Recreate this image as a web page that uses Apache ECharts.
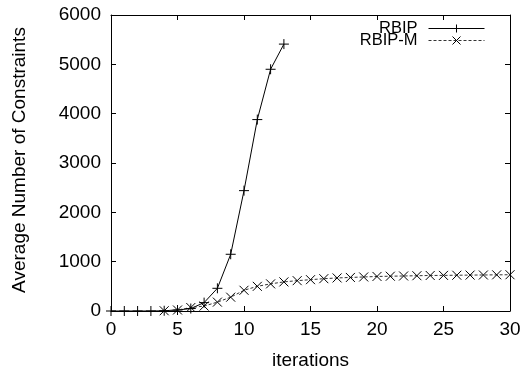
<!DOCTYPE html>
<html>
<head>
<meta charset="utf-8">
<script src="https://cdn.jsdelivr.net/npm/echarts@6/dist/echarts.min.js"></script>
<style>
html,body{margin:0;padding:0;background:#fff;}
#chart{width:524px;height:370px;}
</style>
</head>
<body>
<div id="chart"></div>
<script>
const rbipX = [0,1,2,3,4,5,6,7,8,9,10,11,12,13];
const rbipY = [0,0,0,0,5,20,50,170,460,1150,2440,3880,4900,5410];
const rbipMX = [4,5,6,7,8,9,10,11,12,13,14,15,16,17,18,19,20,21,22,23,24,25,26,27,28,29,30];
const rbipMY = [5,20,70,100,180,280,420,500,550,590,615,635,655,670,680,690,700,705,710,715,720,722,725,728,730,733,735];
const xTicks = [0,5,10,15,20,25,30];
const yTicks = [0,1000,2000,3000,4000,5000,6000];
const seriesNames = ['RBIP', 'RBIP-M'];

const FONT = 'Liberation Sans, Arial, sans-serif';
const TICK_FS = 19;
const plusPath = 'path://M0,5L10,5M5,0L5,10';
const crossPath = 'path://M0,0L10,10M10,0L0,10';

const chart = echarts.init(document.getElementById('chart'), null, {renderer: 'canvas'});

const axisCommon = {
  axisLine: {show: true, onZero: false, lineStyle: {color: '#000', width: 1}},
  axisTick: {show: true, inside: true, length: 5, lineStyle: {color: '#000', width: 1}},
  splitLine: {show: false}
};

function legendFor(name, top) {
  return {
    orient: 'vertical',
    right: 39,
    top: top,
    padding: 0,
    align: 'right',
    itemWidth: 56,
    itemHeight: 10,
    itemGap: 0,
    lineStyle: {width: 1},
    itemStyle: {borderWidth: 1},
    textStyle: {fontFamily: FONT, fontSize: 16.5, color: '#000', padding: [0, 6, 0, 0]},
    data: [name]
  };
}

chart.setOption({
  animation: false,
  backgroundColor: '#fff',
  grid: {left: 111, right: 14, top: 15, bottom: 59, containLabel: false, outerBoundsMode: 'none'},
  legend: [legendFor(seriesNames[0], 20), legendFor(seriesNames[1], 32)],
  xAxis: [
    Object.assign({
      type: 'value', position: 'bottom', min: xTicks[0], max: xTicks[xTicks.length-1], interval: 5,
      name: 'iterations', nameLocation: 'middle', nameGap: 40,
      nameTextStyle: {fontFamily: FONT, fontSize: TICK_FS, color: '#000'},
      axisLabel: {fontFamily: FONT, fontSize: TICK_FS, color: '#000', margin: 9}
    }, axisCommon),
    Object.assign({
      type: 'value', position: 'top', min: xTicks[0], max: xTicks[xTicks.length-1], interval: 5,
      axisLabel: {show: false}
    }, axisCommon)
  ],
  yAxis: [
    Object.assign({
      type: 'value', position: 'left', min: yTicks[0], max: yTicks[yTicks.length-1], interval: 1000,
      name: 'Average Number of Constraints', nameLocation: 'middle', nameGap: 82, nameRotate: 90,
      nameTextStyle: {fontFamily: FONT, fontSize: 19, color: '#000', padding: [0, 0, 0, 6]},
      axisLabel: {fontFamily: FONT, fontSize: TICK_FS, color: '#000', margin: 10, formatter: v => String(v)}
    }, axisCommon),
    Object.assign({
      type: 'value', position: 'right', min: yTicks[0], max: yTicks[yTicks.length-1], interval: 1000,
      axisLabel: {show: false}
    }, axisCommon)
  ],
  series: [
    {
      name: seriesNames[0], type: 'line', xAxisIndex: 0, yAxisIndex: 0,
      data: rbipX.map((x, i) => [x, rbipY[i]]),
      symbol: plusPath, symbolSize: 10, showAllSymbol: true,
      lineStyle: {color: '#000', width: 1},
      itemStyle: {color: 'rgba(0,0,0,0)', borderColor: '#000', borderWidth: 1},
      emphasis: {disabled: true}
    },
    {
      name: seriesNames[1], type: 'line', xAxisIndex: 0, yAxisIndex: 0,
      data: rbipMX.map((x, i) => [x, rbipMY[i]]),
      symbol: crossPath, symbolSize: 9, showAllSymbol: true,
      lineStyle: {color: '#333', width: 1, type: [3, 2]},
      itemStyle: {color: 'rgba(0,0,0,0)', borderColor: '#000', borderWidth: 1},
      emphasis: {disabled: true}
    }
  ]
});
</script>
</body>
</html>
